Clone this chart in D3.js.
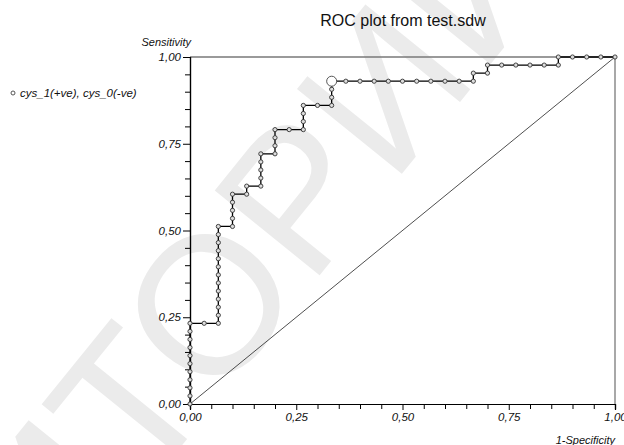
<!DOCTYPE html>
<html>
<head>
<meta charset="utf-8">
<script src="https://cdn.jsdelivr.net/npm/d3@7"></script>
<style>
  body { margin: 0; background: #fff; }
  svg { display: block; }
  text { font-family: "Liberation Sans", Arial, sans-serif; }
</style>
</head>
<body>
<svg id="chart" width="624" height="445"></svg>
<script>
// counts of negatives / positives in the sample
const nNeg = 30
const nPos = 43
// operating points of the ROC curve (cumulative false / true positives)
const falsePos = [0,0,0,0,0,0,0,0,0,0,0, 1, 2,2,2,2,2,2,2,2,2,2,2,2,2, 3,3,3,3,3, 4,4, 5,5,5,5,5,
  6,6,6,6, 7, 8,8,8,8, 9, 10,10,10,10, 11,12,13,14,15,16,17,18,19, 20,20, 21,21, 22,23,24,25, 26,26, 27,28,29,30]
const truePos = [0,1,2,3,4,5,6,7,8,9,10, 10, 10,11,12,13,14,15,16,17,18,19,20,21,22, 22,23,24,25,26, 26,27, 27,28,29,30,31,
  31,32,33,34, 34, 34,35,36,37, 37, 37,38,39,40, 40,40,40,40,40,40,40,40,40, 40,41, 41,42, 42,42,42,42, 42,43, 43,43,43,43]
// optimal cut-off point (false pos, true pos)
const cutoff = [10, 40]
const majorTicks = [0, 0.25, 0.5, 0.75, 1]
const majorLabels = ['0,00', '0,25', '0,50', '0,75', '1,00']
const minorTicks = [0.05,0.1,0.15,0.2,0.3,0.35,0.4,0.45,0.55,0.6,0.65,0.7,0.8,0.85,0.9,0.95]

const svg = d3.select('#chart')
const x = d3.scaleLinear().domain([0, 1]).range([190, 615])
const y = d3.scaleLinear().domain([0, 1]).range([404, 57])

// watermark behind everything
svg.append('text')
  .attr('transform', 'translate(55,602) rotate(-51)')
  .attr('font-size', 196)
  .attr('fill', '#ebebeb')
  .text('ИТОРИЙ')

// title
svg.append('text')
  .attr('x', 403).attr('y', 26)
  .attr('text-anchor', 'middle')
  .attr('font-size', 16)
  .attr('fill', '#111')
  .text('ROC plot from test.sdw')

// frame top / right
svg.append('path')
  .attr('d', `M${x(0)},${y(1)}H${x(1)}V${y(0)}`)
  .attr('fill', 'none').attr('stroke', '#7a7a7a').attr('stroke-width', 1.3)

// chance line
svg.append('line')
  .attr('x1', x(0)).attr('y1', y(0)).attr('x2', x(1)).attr('y2', y(1))
  .attr('stroke', '#222').attr('stroke-width', 0.8)

// axes: minor ticks first, then major with labels
const gx = svg.append('g').attr('transform', `translate(0,${y(0)})`)
gx.call(d3.axisBottom(x).tickValues(minorTicks).tickSize(5).tickFormat(''))
gx.append('g').call(d3.axisBottom(x).tickValues(majorTicks).tickSize(6).tickPadding(3)
  .tickFormat((d, i) => majorLabels[i]))
const gy = svg.append('g').attr('transform', `translate(${x(0)},0)`)
gy.call(d3.axisLeft(y).tickValues(minorTicks).tickSize(5).tickFormat(''))
gy.append('g').call(d3.axisLeft(y).tickValues(majorTicks).tickSize(7).tickPadding(2)
  .tickFormat((d, i) => majorLabels[i]))
svg.selectAll('.domain').attr('stroke', '#000').attr('stroke-width', 1.2)
svg.selectAll('.tick line').attr('stroke', '#000')
svg.selectAll('.tick text')
  .attr('font-family', '"Liberation Sans", Arial, sans-serif')
  .attr('font-style', 'italic').attr('font-size', 11.5).attr('fill', '#111')

// axis titles
svg.append('text').attr('x', 191).attr('y', 46).attr('text-anchor', 'end')
  .attr('font-size', 11).attr('font-style', 'italic').attr('fill', '#111')
  .text('Sensitivity')
svg.append('text').attr('x', 615).attr('y', 444).attr('text-anchor', 'end')
  .attr('font-size', 11).attr('font-style', 'italic').attr('fill', '#111')
  .text('1-Specificity')

// ROC staircase
const pts = falsePos.map((f, i) => [f / nNeg, truePos[i] / nPos])
svg.append('path')
  .datum(pts)
  .attr('d', d3.line().x(d => x(d[0])).y(d => y(d[1])))
  .attr('fill', 'none').attr('stroke', '#000').attr('stroke-width', 1.3)

svg.append('g').selectAll('circle')
  .data(pts).enter()
  .append('circle')
  .attr('cx', d => x(d[0]))
  .attr('cy', d => y(d[1]))
  .attr('r', 2.1)
  .attr('fill', '#ddd').attr('stroke', '#333').attr('stroke-width', 0.9)

svg.append('circle')
  .attr('cx', x(cutoff[0] / nNeg)).attr('cy', y(cutoff[1] / nPos))
  .attr('r', 5)
  .attr('fill', '#fff').attr('stroke', '#555').attr('stroke-width', 1)

// legend
svg.append('circle').attr('cx', 13).attr('cy', 93).attr('r', 2)
  .attr('fill', '#fff').attr('stroke', '#444').attr('stroke-width', 0.9)
svg.append('text').attr('x', 20).attr('y', 97)
  .attr('font-size', 11.5).attr('font-style', 'italic').attr('fill', '#111')
  .text('cys_1(+ve), cys_0(-ve)')
</script>
</body>
</html>
